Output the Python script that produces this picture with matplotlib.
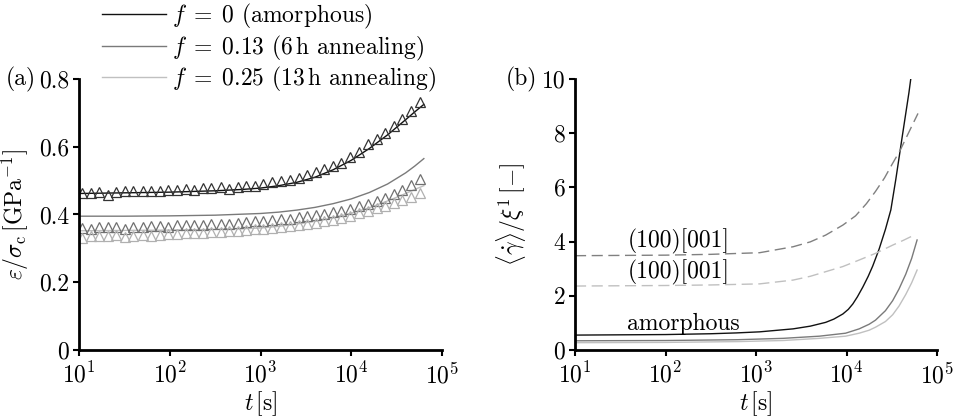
import matplotlib
matplotlib.use('Agg')
import matplotlib.pyplot as plt
import matplotlib.ticker as mticker

plt.rcParams['font.family'] = 'serif'
plt.rcParams['font.serif'] = ['cmr10']
plt.rcParams['mathtext.fontset'] = 'cm'
plt.rcParams['axes.formatter.use_mathtext'] = True
plt.rcParams['axes.unicode_minus'] = False
plt.rcParams['font.size'] = 17

# (a) measured compliance, open triangles (x given as log10 t)
tri_logt = [1.03, 1.13, 1.22, 1.32, 1.41, 1.51, 1.60, 1.70, 1.79, 1.89,
            1.98, 2.08, 2.18, 2.27, 2.37, 2.46, 2.56, 2.65, 2.75, 2.84,
            2.94, 3.03, 3.13, 3.23, 3.32, 3.42, 3.51, 3.61, 3.70, 3.80,
            3.89, 3.99, 4.08, 4.18, 4.28, 4.37, 4.47, 4.56, 4.66, 4.76]
tri_f0 = [0.462, 0.462, 0.467, 0.457, 0.467, 0.470, 0.468, 0.468, 0.470, 0.468,
          0.472, 0.472, 0.474, 0.472, 0.478, 0.478, 0.480, 0.476, 0.482, 0.484,
          0.485, 0.490, 0.497, 0.499, 0.503, 0.509, 0.516, 0.526, 0.533, 0.543,
          0.553, 0.570, 0.585, 0.608, 0.624, 0.641, 0.661, 0.683, 0.706, 0.732]
tri_f13 = [0.360, 0.358, 0.362, 0.364, 0.364, 0.358, 0.362, 0.362, 0.366, 0.366,
           0.364, 0.368, 0.370, 0.368, 0.370, 0.372, 0.372, 0.372, 0.376, 0.378,
           0.380, 0.381, 0.383, 0.386, 0.388, 0.392, 0.395, 0.398, 0.402, 0.406,
           0.410, 0.416, 0.425, 0.432, 0.440, 0.448, 0.460, 0.472, 0.486, 0.505]
tri_f25 = [0.332, 0.338, 0.336, 0.338, 0.340, 0.334, 0.336, 0.340, 0.338, 0.340,
           0.342, 0.342, 0.344, 0.344, 0.346, 0.348, 0.348, 0.350, 0.352, 0.354,
           0.356, 0.358, 0.360, 0.363, 0.366, 0.370, 0.373, 0.376, 0.380, 0.384,
           0.390, 0.396, 0.403, 0.410, 0.418, 0.426, 0.434, 0.442, 0.452, 0.463]

# (a) model curves
fit_logt = [1.0, 1.5, 2.0, 2.5, 2.8, 3.0, 3.2, 3.4, 3.6, 3.8, 4.0, 4.2, 4.4, 4.6, 4.7, 4.8]
fit_f0 = [0.462, 0.464, 0.466, 0.470, 0.474, 0.478, 0.485, 0.495, 0.510, 0.532,
          0.560, 0.595, 0.635, 0.680, 0.703, 0.725]
fit_f13 = [0.395, 0.395, 0.396, 0.398, 0.401, 0.403, 0.407, 0.413, 0.421, 0.432,
           0.446, 0.465, 0.490, 0.523, 0.543, 0.565]
fit_f25 = [0.352, 0.353, 0.354, 0.356, 0.358, 0.360, 0.365, 0.372, 0.380, 0.390,
           0.404, 0.420, 0.440, 0.462, 0.474, 0.485]

# (b) mean shear rates
amor_logt = [1.0, 2.0, 2.5, 2.78, 3.04, 3.41, 3.6, 3.77, 3.86, 3.96, 4.02, 4.07,
             4.12, 4.18, 4.24, 4.29, 4.36, 4.43, 4.49, 4.545, 4.617, 4.69, 4.71]
amor_f0 = [0.55, 0.57, 0.60, 0.63, 0.67, 0.78, 0.88, 1.02, 1.14, 1.33, 1.50, 1.70,
           1.96, 2.32, 2.72, 3.10, 3.72, 4.45, 5.17, 6.30, 7.90, 9.50, 10.0]
amor_logt2 = [1.0, 2.0, 2.8, 3.3, 3.7, 3.99, 4.14, 4.25, 4.32, 4.43, 4.51, 4.58,
              4.655, 4.72, 4.78]
amor_f13 = [0.34, 0.35, 0.38, 0.43, 0.51, 0.62, 0.78, 0.95, 1.10, 1.45, 1.82, 2.25,
            2.80, 3.38, 4.06]
amor_f25 = [0.27, 0.28, 0.31, 0.35, 0.43, 0.51, 0.62, 0.73, 0.84, 1.05, 1.30, 1.62,
            2.05, 2.48, 2.95]
cryst13_logt = [1.0, 2.0, 2.5, 3.04, 3.41, 3.6, 3.77, 3.96, 4.10, 4.22, 4.32, 4.42,
                4.51, 4.59, 4.655, 4.72, 4.79]
cryst13 = [3.48, 3.50, 3.53, 3.59, 3.81, 3.99, 4.24, 4.61, 4.95, 5.40, 5.85, 6.35,
           6.89, 7.35, 7.80, 8.25, 8.73]
cryst25_logt = [1.0, 2.0, 2.5, 2.78, 3.04, 3.41, 3.6, 3.77, 3.96, 4.14, 4.33, 4.51, 4.63, 4.76]
cryst25 = [2.36, 2.38, 2.40, 2.42, 2.44, 2.58, 2.72, 2.89, 3.08, 3.32, 3.58, 3.87, 4.05, 4.26]

legend_labels = [r'$f\;=\;0$ (amorphous)', r'$f\;=\;0.13$ (6$\,$h annealing)',
                 r'$f\;=\;0.25$ (13$\,$h annealing)']

c_black, c_gray, c_light = '#111111', '#7a7a7a', '#c0c0c0'


def t(logs):
    return [10 ** v for v in logs]


fig = plt.figure(figsize=(9.58, 4.19), dpi=100)
ax1 = fig.add_axes([79 / 958, 1 - 350 / 419, 363 / 958, 271 / 419])
ax2 = fig.add_axes([575 / 958, 1 - 350 / 419, 362 / 958, 271 / 419])

l0, = ax1.plot(t(fit_logt), fit_f0, color=c_black, lw=1.0)
l1, = ax1.plot(t(fit_logt), fit_f13, color=c_gray, lw=1.0)
l2, = ax1.plot(t(fit_logt), fit_f25, color=c_light, lw=1.0)
ax1.plot(t(tri_logt), tri_f0, ls='none', marker='^', ms=6.5, mfc='none', mec='#333333', mew=0.9)
ax1.plot(t(tri_logt), tri_f13, ls='none', marker='^', ms=6.5, mfc='none', mec='#707070', mew=0.9)
ax1.plot(t(tri_logt), tri_f25, ls='none', marker='^', ms=6.5, mfc='none', mec='#b0b0b0', mew=0.9)

ax2.plot(t(amor_logt), amor_f0, color=c_black, lw=1.0)
ax2.plot(t(amor_logt2), amor_f13, color=c_gray, lw=1.0)
ax2.plot(t(amor_logt2), amor_f25, color=c_light, lw=1.0)
ax2.plot(t(cryst13_logt), cryst13, color='#808080', lw=1.0, dashes=(8, 4))
ax2.plot(t(cryst25_logt), cryst25, color=c_light, lw=1.0, dashes=(8, 4))

ax2.text(38, 4.0, '(100)[001]', ha='left', va='center')
ax2.text(38, 2.85, '(100)[001]', ha='left', va='center')
ax2.text(37.5, 0.98, 'amorphous', ha='left', va='center')

for ax in (ax1, ax2):
    ax.set_xscale('log')
    ax.set_xlim(10, 1e5)
    ax.xaxis.set_major_locator(mticker.FixedLocator([1e1, 1e2, 1e3, 1e4, 1e5]))
    ax.xaxis.set_minor_locator(mticker.NullLocator())
    for s in ('top', 'right'):
        ax.spines[s].set_visible(False)
    for s in ('left', 'bottom'):
        ax.spines[s].set_linewidth(2.0)
    ax.tick_params(direction='out', length=4, width=1.5)
    ax.tick_params(axis='x', pad=5)
    ax.tick_params(axis='y', pad=3)
    ax.set_xlabel(r'$t\,[\mathrm{s}]$', labelpad=1)

ax1.set_ylim(0, 0.8)
ax1.set_yticks([0, 0.2, 0.4, 0.6, 0.8])
ax1.set_yticklabels(['0', '0.2', '0.4', '0.6', '0.8'])
ax1.set_ylabel(r'$\varepsilon/\sigma_{\mathrm{c}}\,[\mathrm{GPa}^{-1}]$', labelpad=6)

ax2.set_ylim(0, 10)
ax2.set_yticks([0, 2, 4, 6, 8, 10])
ax2.set_yticklabels(['0', '2', '4', '6', '8', '10'])
ax2.set_ylabel(r'$\langle\dot{\gamma}\rangle/\xi^1\,[-]$', labelpad=10)

fig.text(6 / 958, 1 - 79 / 419, '(a)', ha='left', va='center')
fig.text(506 / 958, 1 - 79 / 419, '(b)', ha='left', va='center')

fig.legend([l0, l1, l2], legend_labels, loc='upper left',
           bbox_to_anchor=(102 / 958, 1 - 2 / 419), frameon=False,
           handlelength=2.7, handletextpad=0.25, labelspacing=0.1,
           borderpad=0, borderaxespad=0)

fig.savefig('out.png', dpi=100)
